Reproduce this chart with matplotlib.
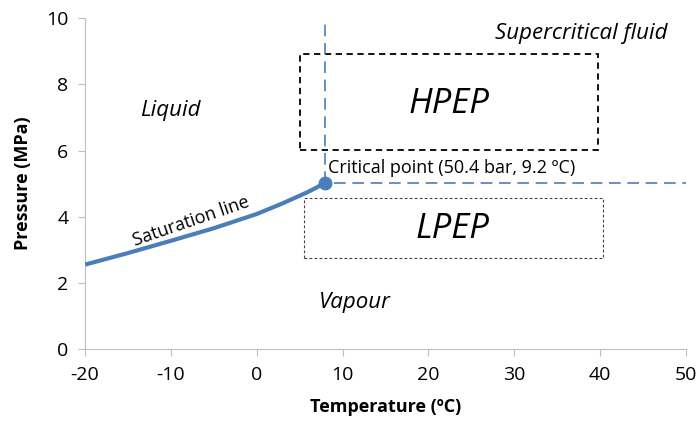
import matplotlib.pyplot as plt
from matplotlib.patches import Rectangle

plt.rcParams['font.family'] = ['Open Sans', 'DejaVu Sans']
plt.rcParams['axes.unicode_minus'] = False

# saturation line
temp = [-20, -15, -10, -5, 0, 3, 6, 8]
pres = [2.55, 2.9, 3.27, 3.65, 4.08, 4.4, 4.75, 5.02]
crit_t = 8
crit_p = 5.02

# boxes: (T left, T right, P bottom, P top)
hpep_box = [5.1, 39.8, 6.03, 8.93]
lpep_box = [5.5, 40.3, 2.74, 4.57]

xticks = [-20, -10, 0, 10, 20, 30, 40, 50]
yticks = [0, 2, 4, 6, 8, 10]

blue = "#4a7ebb"
grey = "#bfbfbf"

fig = plt.figure(figsize=(6.97, 4.23), dpi=100)
ax = fig.add_axes([0.122, 0.175, 0.862, 0.782])

ax.plot(temp, pres, color=blue, lw=3, solid_capstyle="butt", zorder=3)
ax.plot(crit_t, crit_p, "o", color=blue, ms=9, zorder=4)
ax.plot([crit_t, crit_t], [crit_p, 10], color=blue, lw=1.2, dashes=(7, 4))
ax.plot([crit_t + 1, 50], [crit_p, crit_p], color=blue, lw=1.2, dashes=(7, 4))

ax.add_patch(Rectangle((hpep_box[0], hpep_box[2]), hpep_box[1] - hpep_box[0],
                       hpep_box[3] - hpep_box[2], fill=False, ec="black",
                       lw=1.3, ls=(0, (3.5, 2.5))))
ax.add_patch(Rectangle((lpep_box[0], lpep_box[2]), lpep_box[1] - lpep_box[0],
                       lpep_box[3] - lpep_box[2], fill=False, ec="#404040",
                       lw=0.8, ls=(0, (2.5, 2))))

ax.text(-10.1, 7.2, "Liquid", style="italic", fontsize=16, ha="center", va="center")
ax.text(37.8, 9.55, "Supercritical fluid", style="italic", fontsize=16, ha="center", va="center")
ax.text(11.4, 1.4, "Vapour", style="italic", fontsize=16, ha="center", va="center")
ax.text(22.4, 7.4, "HPEP", style="italic", fontsize=25, ha="center", va="center")
ax.text(22.8, 3.63, "LPEP", style="italic", fontsize=25, ha="center", va="center")
ax.text(8.3, 5.47, "Critical point (50.4 bar, 9.2 ºC)", fontsize=13, ha="left", va="center")
ax.text(-7.6, 3.85, "Saturation line", fontsize=13, ha="center", va="center", rotation=19)

ax.set_xlim(-20, 50)
ax.set_ylim(0, 10)
ax.set_xticks(xticks)
ax.set_yticks(yticks)
ax.tick_params(labelsize=14, color=grey, length=5, pad=7)
for s in ["top", "right"]:
    ax.spines[s].set_visible(False)
for s in ["left", "bottom"]:
    ax.spines[s].set_color(grey)

ax.set_xlabel("Temperature (ºC)", fontsize=13, fontweight="bold", labelpad=10)
ax.set_ylabel("Pressure (MPa)", fontsize=13, fontweight="bold", labelpad=10)

plt.savefig("out.png", dpi=100)
